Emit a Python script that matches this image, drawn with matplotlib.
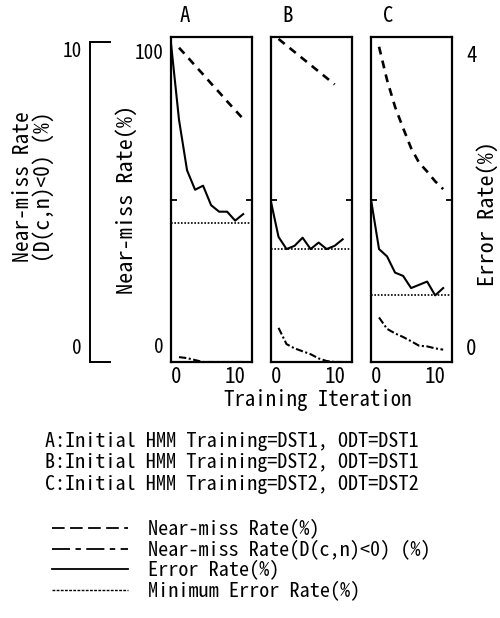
import matplotlib
matplotlib.use("Agg")
import matplotlib.pyplot as plt
from matplotlib.lines import Line2D

# ---------------- data ----------------
steps = [0, 1, 2, 3, 4, 5, 6, 7, 8, 9]          # plotted iteration index
panels = ["A", "B", "C"]

# Error rate (%), right axis 0-4
err_A = [3.92, 2.98, 2.36, 2.12, 2.17, 1.93, 1.85, 1.85, 1.74, 1.82]
err_B = [2.00, 1.54, 1.39, 1.43, 1.53, 1.39, 1.47, 1.39, 1.43, 1.51]
err_C = [2.00, 1.39, 1.30, 1.10, 1.06, 0.91, 0.95, 0.99, 0.82, 0.91]

# Minimum error rate (%)
min_err = [1.71, 1.39, 0.82]

# Near-miss rate (%), 0-100 axis, from step 1
nm_A = [96.7, 94.0, 91.2, 88.5, 85.7, 83.0, 80.2, 77.5, 74.8]
nm_B = [99.4, 97.4, 95.4, 93.4, 91.4, 89.4, 87.4, 85.4]
nm_C = [97.0, 86.8, 78.5, 72.0, 65.8, 61.3, 58.6, 55.6, 53.2]

# Near-miss rate with D(c,n)<0 (%), 0-10 axis, from step 1
dm_A = [0.15, 0.12, 0.06, 0.0, 0.0, 0.0, 0.0, 0.0, 0.0]
dm_B = [1.05, 0.55, 0.42, 0.33, 0.24, 0.11, 0.03, 0.0, 0.0]
dm_C = [1.37, 1.02, 0.88, 0.77, 0.64, 0.50, 0.48, 0.42, 0.38]

conditions = [
    "A:Initial HMM Training=DST1, ODT=DST1",
    "B:Initial HMM Training=DST2, ODT=DST1",
    "C:Initial HMM Training=DST2, ODT=DST2",
]
legend_labels = [
    "Near-miss Rate(%)",
    "Near-miss Rate(D(c,n)<0) (%)",
    "Error Rate(%)",
    "Minimum Error Rate(%)",
]
xtick_labels = ["0", "10"]
nm_axis_labels = ["0", "100"]
dm_axis_labels = ["0", "10"]
err_axis_labels = ["0", "4"]

errs = [err_A, err_B, err_C]
nms = [nm_A, nm_B, nm_C]
dms = [dm_A, dm_B, dm_C]

# ---------------- style ----------------
FAM = ["Noto Sans Mono CJK JP", "DejaVu Sans Mono"]
plt.rcParams["font.family"] = FAM
FS = 15
FS_LAB = 16
FS_TICK = 14
FS_SMALL = 14.5
W, H = 500, 618

NM_STYLE = dict(color="black", lw=1.9, linestyle=(0, (3.0, 2.4)))
DM_STYLE = dict(color="black", lw=1.5, linestyle=(0, (3.5, 1.2, 1.0, 1.2)))
ER_STYLE = dict(color="black", lw=1.5, linestyle="-")
MN_STYLE = dict(color="black", lw=1.2, linestyle=(0, (1.0, 1.0)))


def rect(x0, x1, y0, y1):
    return [x0 / W, 1 - y1 / H, (x1 - x0) / W, (y1 - y0) / H]


fig = plt.figure(figsize=(5, 6.18), dpi=100)

lefts = [171, 270.5, 371]
title_x = [0.17, 0.215, 0.215]
for i, p in enumerate(panels):
    ax = fig.add_axes(rect(lefts[i], lefts[i] + 81, 37, 362))
    ax.set_xlim(0, 10.1)
    ax.set_ylim(0, 100)
    for s in ax.spines.values():
        s.set_linewidth(1.6)
    ax_e = ax.twinx()
    ax_e.set_ylim(0, 4)
    ax_d = ax.twinx()
    ax_d.set_ylim(0, 10)
    for a in (ax_e, ax_d):
        for s in a.spines.values():
            s.set_visible(False)
        a.set_yticks([])

    ax.plot(steps[1:1 + len(nms[i])], nms[i], **NM_STYLE)
    ax_d.plot(steps[1:1 + len(dms[i])], dms[i], **DM_STYLE)
    ax_e.plot(steps, errs[i], **ER_STYLE)
    ax_e.axhline(min_err[i], **MN_STYLE)

    # x ticks
    ax.set_xticks([0.7, 8.05])
    ax.set_xticklabels(xtick_labels, fontsize=FS)
    ax.tick_params(axis="x", length=0, pad=3)

    # y ticks: middle tick mark inside on both sides
    ax.set_yticks([])
    ax.set_yticks([50], minor=True)
    ax.tick_params(axis="y", which="minor", direction="in", length=4,
                   width=1.3, left=True, right=True)
    if i == 0:
        ytr = ax.get_yaxis_transform()
        for v, lab in zip([4.6, 95], nm_axis_labels):
            ax.text(-0.09, v, lab, transform=ytr, fontsize=FS_TICK,
                    ha="right", va="center")
        ax.set_ylabel("Near-miss Rate(%)", fontsize=FS_LAB, va="center")
        ax.yaxis.set_label_coords(-0.54, 0.50)
    if i == 2:
        ax_e.set_yticks([0.185, 3.80])
        ax_e.set_yticklabels(err_axis_labels, fontsize=FS)
        ax_e.tick_params(axis="y", length=0, pad=10)
        ax_e.set_ylabel("Error Rate(%)", fontsize=FS_LAB, va="center")
        ax_e.yaxis.set_label_coords(1.44, 0.457)
    ax.text(title_x[i], 1.066, p, transform=ax.transAxes, fontsize=FS,
            ha="center", va="center")

# bracket axis for D(c,n)<0 rate
axb = fig.add_axes(rect(89.5, 109.5, 41.7, 362))
axb.set_ylim(0, 10)
axb.set_xticks([])
axb.set_yticks([])
axb.spines["right"].set_visible(False)
for s in ("left", "top", "bottom"):
    axb.spines[s].set_linewidth(1.4)
axb.patch.set_visible(False)
btr = axb.get_yaxis_transform()
for v, lab in zip([0.43, 9.69], dm_axis_labels):
    axb.text(-0.38, v, lab, transform=btr, fontsize=FS_TICK,
             ha="right", va="center")
axb.set_ylabel("Near-miss Rate\n(D(c,n)<0) (%)", fontsize=15.5, va="center",
               linespacing=0.92)
axb.yaxis.set_label_coords(-2.8, 0.547)

fig.text(317.5 / W, 1 - 400 / H, "Training Iteration", fontsize=FS,
         ha="center", va="center")

row_y = [441.2, 462.7, 484.2]
for t, yy in zip(conditions, row_y):
    fig.text(45 / W, 1 - yy / H, t, fontsize=FS_SMALL, ha="left",
             va="center")

proxies = [
    Line2D([], [], color="black", lw=1.3, linestyle=(0, (7, 3))),
    Line2D([], [], color="black", lw=1.3, linestyle=(0, (10, 3, 3, 3))),
    Line2D([], [], color="black", lw=1.3, linestyle="-"),
    Line2D([], [], color="black", lw=1.0, linestyle=(0, (2, 1))),
]
fig.legend(proxies, legend_labels, loc="center left",
           bbox_to_anchor=(51.7 / W, 1 - 560 / H), frameon=False,
           fontsize=FS_SMALL, handlelength=3.8, handletextpad=1.0,
           labelspacing=0.03, borderpad=0, borderaxespad=0)

fig.savefig("out.png", dpi=100)
